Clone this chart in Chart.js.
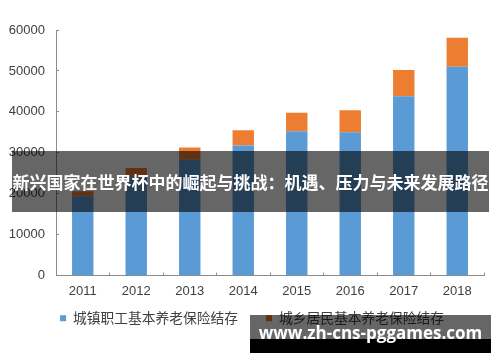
<!DOCTYPE html>
<html>
<head>
<meta charset="utf-8">
<script src="https://cdn.jsdelivr.net/npm/chart.js@4"></script>
<style>
    body { margin: 0; background: #fff; }
    #wrap { position: relative; width: 500px; height: 362px; }
    .banner {
        position: absolute; left: 12px; top: 151px; width: 477px; height: 61px;
        background: rgba(0, 0, 0, 0.6); color: #fff;
        font: bold 17px "Noto Sans CJK SC", sans-serif;
        line-height: 61px; text-align: center; white-space: nowrap; overflow: hidden;
    }
    .mark {
        position: absolute; left: 250px; top: 315px; width: 241px; height: 38px;
        background: linear-gradient(rgba(0,0,0,0.6) 0, rgba(0,0,0,0.6) 24px, #000 24px);
        color: #fff; font: bold 17px "Open Sans", sans-serif;
        line-height: 36px; text-align: center; white-space: nowrap; overflow: hidden;
    }
</style>
</head>
<body>
<div id="wrap">
    <canvas id="pensionChart" width="500" height="362"></canvas>
    <div class="banner">新兴国家在世界杯中的崛起与挑战：机遇、压力与未来发展路径</div>
    <div class="mark">www.zh-cns-pggames.com</div>
</div>
<script>
const years = ['2011', '2012', '2013', '2014', '2015', '2016', '2017', '2018'];
const urbanWorkers = [19400, 24000, 28300, 31800, 35300, 35000, 43800, 51000];
const ruralResidents = [1200, 2300, 3000, 3700, 4500, 5400, 6400, 7100];
const seriesNames = ['城镇职工基本养老保险结存', '城乡居民基本养老保险结存'];
const yMax = 60000;
const yStep = 10000;

// legend padding is big for the gap between the two items, so pull the box up a bit
const legendNudge = {
    id: 'legendNudge',
    afterLayout(chart) {
        const legend = chart.legend;
        if (!legend) return;
        legend.top -= 27;
        legend.bottom -= 27;
        legend.left += 6;
        legend.right += 6;
    }
};

function renderPensionChart() {

    const ctx = document.getElementById('pensionChart');

    new Chart(ctx, {
        type: 'bar',
        data: {
            labels: years,
            datasets: [{
                label: seriesNames[0],
                data: urbanWorkers,
                backgroundColor: '#5b9bd5'
            }, {
                label: seriesNames[1],
                data: ruralResidents,
                backgroundColor: '#ed7d31'
            }]
        },
        options: {
            responsive: false,
            animation: false,
            layout: {
                padding: { top: 30, left: 8, right: 16, bottom: 0 }
            },
            datasets: {
                bar: { categoryPercentage: 1, barPercentage: 0.4 }
            },
            scales: {
                x: {
                    stacked: true,
                    border: { color: '#8c8c8c', width: 1 },
                    grid: { drawOnChartArea: false, tickLength: -3, color: '#8c8c8c' },
                    ticks: { color: '#404040', padding: 11, font: { family: 'Liberation Sans', size: 13 } }
                },
                y: {
                    stacked: true,
                    min: 0,
                    max: yMax,
                    border: { color: '#8c8c8c', width: 1 },
                    grid: { drawOnChartArea: false, tickLength: -3, color: '#8c8c8c' },
                    ticks: {
                        stepSize: yStep,
                        color: '#404040',
                        padding: 14,
                        font: { family: 'Liberation Sans', size: 13 },
                        callback: function (value) { return String(value); }
                    },
                    afterFit: function (scale) { scale.width = 48; }
                }
            },
            plugins: {
                tooltip: { enabled: false },
                legend: {
                    position: 'bottom',
                    labels: {
                        boxWidth: 6,
                        boxHeight: 6,
                        padding: 28,
                        color: '#404040',
                        font: { family: 'Noto Sans CJK SC', size: 13.75 }
                    }
                }
            }
        },
        plugins: [legendNudge]
    });
}

renderPensionChart();
</script>
</body>
</html>
